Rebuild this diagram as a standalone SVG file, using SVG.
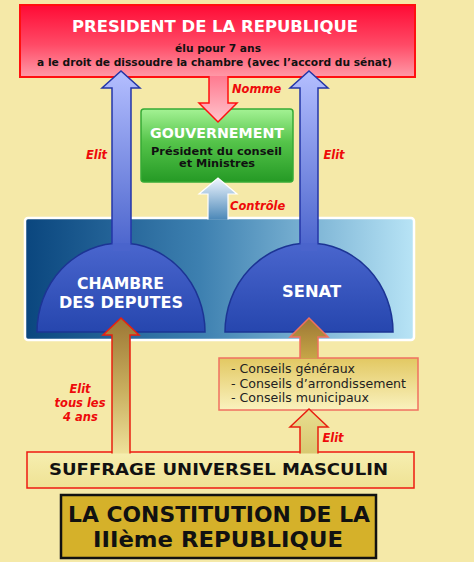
<svg xmlns="http://www.w3.org/2000/svg" width="474" height="562" viewBox="0 0 474 562">
<defs>
<linearGradient id="gPres" x1="0" y1="0" x2="0" y2="1"><stop offset="0" stop-color="#FF0A35"/><stop offset="0.55" stop-color="#FF4A66"/><stop offset="1" stop-color="#FF9AA8"/></linearGradient>
<linearGradient id="gNomme" x1="0" y1="0" x2="0" y2="1"><stop offset="0" stop-color="#FF7A90"/><stop offset="1" stop-color="#FFC4CC"/></linearGradient>
<linearGradient id="gGov" x1="0" y1="0" x2="0" y2="1"><stop offset="0" stop-color="#A4F294"/><stop offset="0.45" stop-color="#55C44A"/><stop offset="1" stop-color="#259A25"/></linearGradient>
<linearGradient id="gPanel" x1="0" y1="0" x2="1" y2="0"><stop offset="0" stop-color="#0A467E"/><stop offset="0.45" stop-color="#3D80B0"/><stop offset="1" stop-color="#B8E4F6"/></linearGradient>
<linearGradient id="gCtrl" x1="0" y1="0" x2="0" y2="1"><stop offset="0" stop-color="#EEF6FF"/><stop offset="1" stop-color="#4C88B8"/></linearGradient>
<linearGradient id="gBlue" gradientUnits="userSpaceOnUse" x1="0" y1="71" x2="0" y2="250"><stop offset="0" stop-color="#B4BEFF"/><stop offset="1" stop-color="#4A64CC"/></linearGradient>
<linearGradient id="gDome" x1="0" y1="0" x2="0" y2="1"><stop offset="0" stop-color="#4A66CE"/><stop offset="1" stop-color="#2646AE"/></linearGradient>
<linearGradient id="gGold" gradientUnits="userSpaceOnUse" x1="0" y1="318" x2="0" y2="460"><stop offset="0" stop-color="#9C7634"/><stop offset="0.5" stop-color="#C8AE5E"/><stop offset="1" stop-color="#F2E6A0"/></linearGradient>
<linearGradient id="gGold2" gradientUnits="userSpaceOnUse" x1="0" y1="318" x2="0" y2="360"><stop offset="0" stop-color="#9C7634"/><stop offset="1" stop-color="#C8A848"/></linearGradient>
<linearGradient id="gLow" gradientUnits="userSpaceOnUse" x1="0" y1="409" x2="0" y2="455"><stop offset="0" stop-color="#E8DE90"/><stop offset="1" stop-color="#D8C870"/></linearGradient>
<linearGradient id="gSuf" x1="0" y1="0" x2="0" y2="1"><stop offset="0" stop-color="#F6EEB0"/><stop offset="1" stop-color="#EFE294"/></linearGradient>
<linearGradient id="gCons" x1="0" y1="0" x2="0" y2="1"><stop offset="0" stop-color="#E2C862"/><stop offset="1" stop-color="#FAF2BE"/></linearGradient>
</defs>
<style>
text{font-family:"DejaVu Sans","Verdana","Liberation Sans",sans-serif;font-weight:bold;}
.w{fill:#FFFFFF;}
.k{fill:#111111;}
.lbl{fill:#EE0A0A;font-style:italic;font-size:11.5px;}
.c{font-weight:normal;font-size:12px;fill:#222222;}
.blue{fill:url(#gBlue);stroke:#2436A8;stroke-width:1.5;}
.gold{stroke:#E82010;stroke-width:1.5;}
</style>
<rect width="474" height="562" fill="#F5E9A8"/>

<g id="panel">
<rect x="25" y="218" width="389" height="122" rx="3" fill="url(#gPanel)" stroke="#FFFFFF" stroke-width="2.5"/>
</g>

<g id="president">
<rect x="20" y="5" width="395" height="72" fill="url(#gPres)" stroke="#FF1010" stroke-width="2"/>
<text x="215" y="32" class="w" font-size="15" text-anchor="middle" textLength="286" lengthAdjust="spacingAndGlyphs">PRESIDENT DE LA REPUBLIQUE</text>
<text x="218" y="52" class="k" font-size="10.5" text-anchor="middle" textLength="86" lengthAdjust="spacingAndGlyphs">élu pour 7 ans</text>
<text x="214.5" y="66" class="k" font-size="10.5" text-anchor="middle" textLength="355" lengthAdjust="spacingAndGlyphs">a le droit de dissoudre la chambre (avec l’accord du sénat)</text>
</g>

<g id="gouvernement">
<rect x="141" y="109" width="152" height="73" rx="3" fill="url(#gGov)" stroke="#36AA36" stroke-width="1.5"/>
<text x="217" y="138" class="w" font-size="13.5" text-anchor="middle" textLength="134" lengthAdjust="spacingAndGlyphs">GOUVERNEMENT</text>
<text x="216.5" y="155" class="k" font-size="11" text-anchor="middle" textLength="131" lengthAdjust="spacingAndGlyphs">Président du conseil</text>
<text x="217" y="167" class="k" font-size="11" text-anchor="middle" textLength="76" lengthAdjust="spacingAndGlyphs">et Ministres</text>
</g>

<g id="chambre">
<path d="M37,332 A84,89 0 0 1 205,332 Z" fill="url(#gDome)" stroke="#1C3494" stroke-width="1.5"/>
</g>
<g id="senat">
<path d="M225,332 A84,89 0 0 1 393,332 Z" fill="url(#gDome)" stroke="#1C3494" stroke-width="1.5"/>
</g>

<g id="conseils">
<rect x="219" y="358" width="199" height="52" fill="url(#gCons)" stroke="#F07060" stroke-width="1.5"/>
<text x="231" y="373" class="c" textLength="124" lengthAdjust="spacingAndGlyphs">- Conseils généraux</text>
<text x="231" y="388" class="c" textLength="175" lengthAdjust="spacingAndGlyphs">- Conseils d’arrondissement</text>
<text x="231" y="402" class="c" textLength="138" lengthAdjust="spacingAndGlyphs">- Conseils municipaux</text>
</g>

<g id="suffrage">
<rect x="27" y="452" width="387" height="36" fill="url(#gSuf)" stroke="#EE1A10" stroke-width="1.5"/>
<text x="218.5" y="475" class="k" font-size="15" text-anchor="middle" textLength="339" lengthAdjust="spacingAndGlyphs">SUFFRAGE UNIVERSEL MASCULIN</text>
</g>

<g id="titre">
<rect x="61" y="495" width="315" height="63" fill="#D5B12A" stroke="#111111" stroke-width="2.5"/>
<text x="219" y="522" class="k" font-size="21" text-anchor="middle" textLength="302" lengthAdjust="spacingAndGlyphs">LA CONSTITUTION DE LA</text>
<text x="218" y="547" class="k" font-size="21" text-anchor="middle" textLength="250" lengthAdjust="spacingAndGlyphs">IIIème REPUBLIQUE</text>
</g>

<g id="connectors">
<path d="M209,76 V103 H199 L218,122 L237,103 H228 V76" fill="url(#gNomme)" stroke="#FF1010" stroke-width="1.5"/>
<path d="M208,219.5 V194 H199 L218,178 L237,194 H228 V219.5" fill="url(#gCtrl)" stroke="#FFFFFF" stroke-width="1.2"/>
<path d="M112,244 V88 H102 L121,71 L140,88 H131 V244" class="blue"/>
<rect x="112.8" y="243" width="17.4" height="8" fill="#4A64CC"/>
<path d="M300,244 V88 H290 L309,71 L328,88 H318 V244" class="blue"/>
<rect x="300.8" y="243" width="16.4" height="8" fill="#4A64CC"/>
<path d="M112,453.5 V335 H103 L121,318 L139,335 H130 V453.5" fill="url(#gGold)" class="gold"/>
<path d="M300,358.5 V337 H290 L309,318 L328,337 H318 V358.5" fill="url(#gGold2)" stroke="#F07060" stroke-width="1.5"/>
<path d="M300,453.5 V427 H290 L309,409 L328,427 H318 V453.5" fill="url(#gLow)" class="gold"/>
<text x="232" y="93" class="lbl">Nomme</text>
<text x="230" y="210" class="lbl">Contrôle</text>
<text x="96.5" y="159" class="lbl" text-anchor="middle">Elit</text>
<text x="334" y="159" class="lbl" text-anchor="middle">Elit</text>
<text x="80" y="393" class="lbl" text-anchor="middle">Elit</text>
<text x="80" y="407" class="lbl" text-anchor="middle">tous les</text>
<text x="80.5" y="421" class="lbl" text-anchor="middle">4 ans</text>
<text x="333" y="442" class="lbl" text-anchor="middle">Elit</text>
</g>

<g id="dome-labels">
<text x="120.5" y="289" class="w" font-size="15" text-anchor="middle" textLength="87" lengthAdjust="spacingAndGlyphs">CHAMBRE</text>
<text x="121" y="308" class="w" font-size="15" text-anchor="middle" textLength="124" lengthAdjust="spacingAndGlyphs">DES DEPUTES</text>
<text x="311.5" y="297" class="w" font-size="15" text-anchor="middle" textLength="59" lengthAdjust="spacingAndGlyphs">SENAT</text>
</g>
</svg>
